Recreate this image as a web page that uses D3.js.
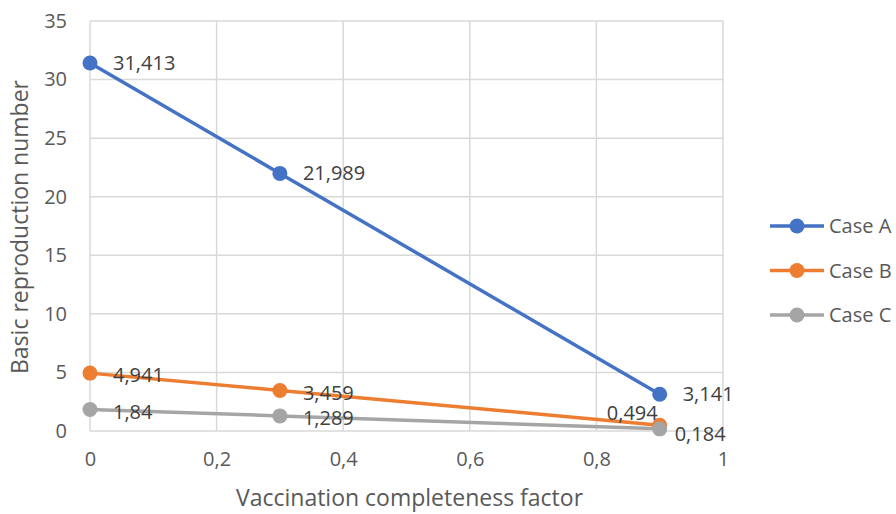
<!DOCTYPE html>
<html>
<head>
<meta charset="utf-8">
<script src="https://cdn.jsdelivr.net/npm/d3@7"></script>
<style>
html,body{margin:0;padding:0;background:#fff;}
svg{display:block;font-family:"Open Sans",sans-serif;}
</style>
</head>
<body>
<svg id="chart" width="896" height="514"></svg>
<script>
const xValues = [0, 0.3, 0.9];
const seriesNames = ["Case A", "Case B", "Case C"];
const caseA = [31.413, 21.989, 3.141];
const caseB = [4.941, 3.459, 0.494];
const caseC = [1.84, 1.289, 0.184];
const xTicks = [0, 0.2, 0.4, 0.6, 0.8, 1];
const yTicks = [0, 5, 10, 15, 20, 25, 30, 35];
const colors = ["#4472C4", "#ED7D31", "#A5A5A5"];
const xTitle = "Vaccination completeness factor";
const yTitle = "Basic reproduction number";

const series = [caseA, caseB, caseC].map((vals, i) => ({
  name: seriesNames[i], color: colors[i],
  points: vals.map((v, j) => ({x: xValues[j], y: v}))
}));

const svg = d3.select("#chart");
const fmt = v => String(v).replace(".", ",");

const x = d3.scaleLinear().domain([0, 1]).range([90, 723]);
const y = d3.scaleLinear().domain([0, 35]).range([431, 21]);
const textColor = "#595959";
const fs = 20;
const titleFs = 23;

// gridlines
svg.append("g").selectAll("line").data(yTicks).join("line")
  .attr("x1", x(0)).attr("x2", x(1))
  .attr("y1", d => y(d)).attr("y2", d => y(d))
  .attr("stroke", "#D9D9D9").attr("stroke-width", 1.5);
svg.append("g").selectAll("line").data(xTicks).join("line")
  .attr("y1", y(0)).attr("y2", y(35))
  .attr("x1", d => x(d)).attr("x2", d => x(d))
  .attr("stroke", "#D9D9D9").attr("stroke-width", 1.5);

// axes labels via d3 axes
const yAxis = svg.append("g").attr("transform", `translate(${x(0)},0)`)
  .call(d3.axisLeft(y).tickValues(yTicks).tickSize(0).tickPadding(23).tickFormat(fmt));
yAxis.select(".domain").remove();
yAxis.selectAll("text").attr("font-size", fs).attr("fill", textColor)
  .attr("font-family", '"Open Sans",sans-serif');

const xAxis = svg.append("g").attr("transform", `translate(0,${y(0)})`)
  .call(d3.axisBottom(x).tickValues(xTicks).tickSize(0).tickPadding(21).tickFormat(fmt));
xAxis.select(".domain").remove();
xAxis.selectAll("text").attr("font-size", fs).attr("fill", textColor)
  .attr("font-family", '"Open Sans",sans-serif');

// titles
svg.append("text").attr("x", (x(0) + x(1)) / 2 + 3).attr("y", 506)
  .attr("text-anchor", "middle").attr("font-size", titleFs).attr("fill", textColor).text(xTitle);
svg.append("text").attr("transform", `translate(28,227) rotate(-90)`)
  .attr("text-anchor", "middle").attr("font-size", titleFs).attr("fill", textColor).text(yTitle);

// lines
const line = d3.line().x(d => x(d.x)).y(d => y(d.y));
series.forEach(s => {
  svg.append("path").datum(s.points).attr("d", line)
    .attr("fill", "none").attr("stroke", s.color).attr("stroke-width", 3.5)
    .attr("stroke-linejoin", "round");
});
series.forEach(s => {
  svg.append("g").selectAll("circle").data(s.points).join("circle")
    .attr("cx", d => x(d.x)).attr("cy", d => y(d.y)).attr("r", 7.5)
    .attr("fill", s.color);
});

// data labels (offsets approximate Excel's automatic placement)
const labelOffsets = [
  [[23, 0], [23, 0], [23, 0]],
  [[23, 2], [23, 3], [-2, -12, "end"]],
  [[23, 3], [23, 2], [15, 5]]
];
series.forEach((s, i) => {
  s.points.forEach((p, j) => {
    const o = labelOffsets[i][j];
    svg.append("text")
      .attr("x", x(p.x) + o[0]).attr("y", y(p.y) + o[1])
      .attr("dy", "0.35em").attr("text-anchor", o[2] || "start")
      .attr("font-size", fs).attr("fill", "#404040").text(fmt(p.y));
  });
});

// legend
const legend = svg.append("g");
series.forEach((s, i) => {
  const ly = 226 + i * 44.5;
  legend.append("line").attr("x1", 770).attr("x2", 824).attr("y1", ly).attr("y2", ly)
    .attr("stroke", s.color).attr("stroke-width", 3.5);
  legend.append("circle").attr("cx", 797).attr("cy", ly).attr("r", 7.5).attr("fill", s.color);
  legend.append("text").attr("x", 829).attr("y", ly).attr("dy", "0.35em")
    .attr("font-size", fs).attr("fill", textColor).text(s.name);
});
</script>
</body>
</html>
